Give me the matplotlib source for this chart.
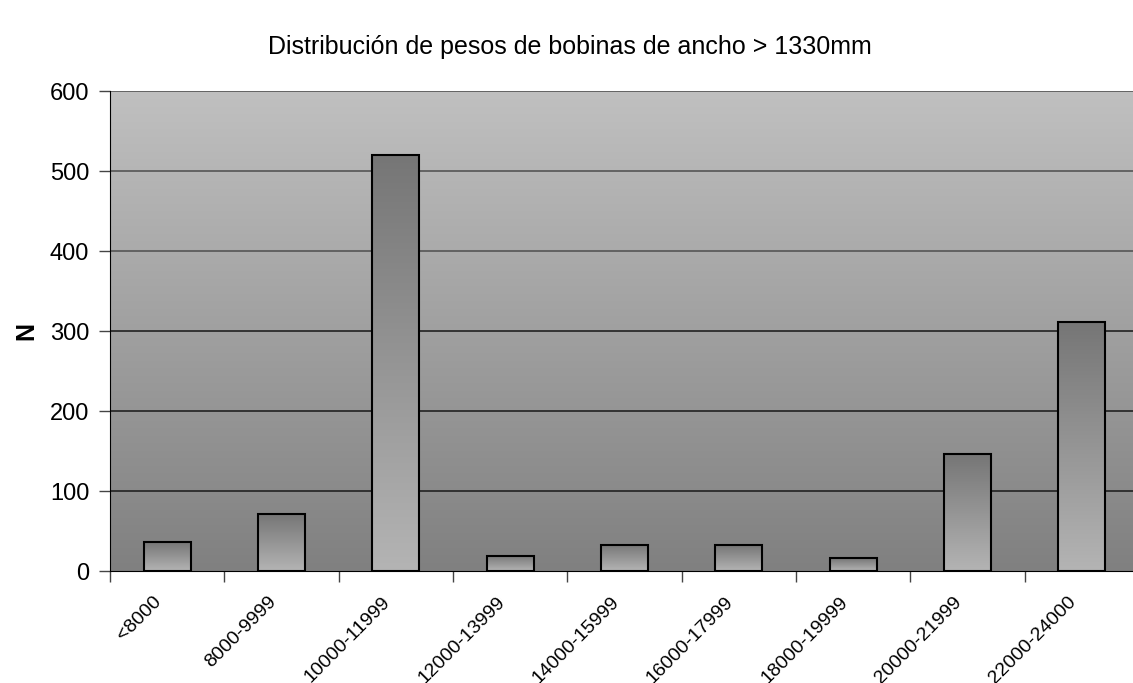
"""
Distribución de pesos de bobinas de ancho > 1330mm, bar chart with gradients.
"""

import numpy as np
import matplotlib.pyplot as plt
import matplotlib.transforms as mtransforms
from matplotlib.colors import LinearSegmentedColormap

categories = ["<8000", "8000-9999", "10000-11999", "12000-13999", "14000-15999",
              "16000-17999", "18000-19999", "20000-21999", "22000-24000"]
counts = [36, 71, 520, 19, 33, 32, 16, 146, 311]
y_ticks = [0, 100, 200, 300, 400, 500, 600]

plt.rcParams["font.family"] = ["Liberation Sans", "DejaVu Sans"]

fig = plt.figure(figsize=(11.33, 6.83), dpi=100)
ax = fig.add_axes([110 / 1133, 1 - 571 / 683, 1029 / 1133, 480 / 683])

x = np.arange(len(categories))
ax.set_xlim(-0.5, len(categories) - 0.5)
ax.set_ylim(0, 600)

# background gradient: light at top, dark at bottom
bg_cmap = LinearSegmentedColormap.from_list("bg", ["#808080", "#c0c0c0"])
grad = np.linspace(0, 1, 256).reshape(-1, 1)
ax.imshow(grad, cmap=bg_cmap, origin="lower", aspect="auto",
          extent=[-0.5, len(categories) - 0.5, 0, 600], zorder=0)

for yv in y_ticks[1:]:
    ax.axhline(yv, color="#222222" if yv < 400 else "#555555", linewidth=1.2, zorder=1)

bars = ax.bar(x, counts, width=0.41, facecolor="none", edgecolor="black",
              linewidth=1.5, zorder=3)

# bar gradient: dark at top, light at bottom
bar_cmap = LinearSegmentedColormap.from_list("bar", ["#b4b4b4", "#767676"])
for b in bars:
    x0, w, h = b.get_x(), b.get_width(), b.get_height()
    ax.imshow(grad, cmap=bar_cmap, origin="lower", aspect="auto",
              extent=[x0, x0 + w, 0, h], zorder=2)

ax.set_xlim(-0.5, len(categories) - 0.5)
ax.set_ylim(0, 600)

ax.set_yticks(y_ticks)
ax.tick_params(axis="y", labelsize=17, length=8, width=1, color="#444444", pad=7)

ax.set_xticks(x)
ax.set_xticklabels(categories, rotation=45, ha="right", va="top",
                   rotation_mode="anchor", fontsize=14)
ax.tick_params(axis="x", which="major", length=0, pad=16)
shift = mtransforms.ScaledTranslation(-14 / 100, 0, fig.dpi_scale_trans)
for lab in ax.get_xticklabels():
    lab.set_transform(lab.get_transform() + shift)
ax.set_xticks(np.arange(len(categories) + 1) - 0.5, minor=True)
ax.tick_params(axis="x", which="minor", length=8, width=1, color="#444444")

for side in ["top", "right"]:
    ax.spines[side].set_visible(False)
ax.spines["left"].set_color("black")
ax.spines["bottom"].set_color("black")

ax.set_ylabel("N", fontsize=18, fontweight="bold", rotation=90, labelpad=8)

fig.text(570 / 1133, 1 - 47 / 683, "Distribución de pesos de bobinas de ancho > 1330mm",
         ha="center", va="center", fontsize=18)

fig.savefig("out.png", dpi=100)
